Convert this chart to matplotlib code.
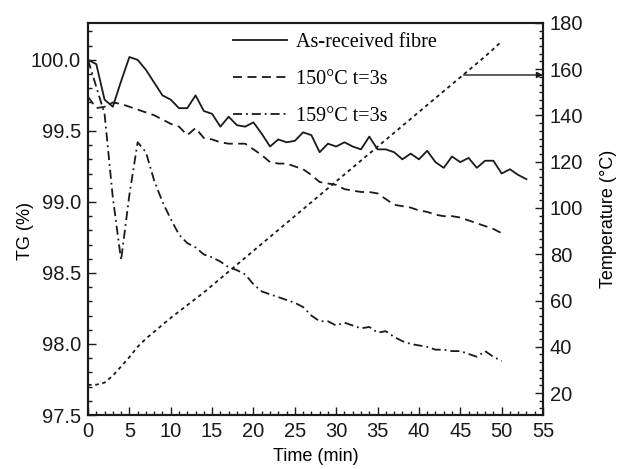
import matplotlib
matplotlib.use("Agg")
import matplotlib.pyplot as plt
from matplotlib.ticker import MultipleLocator

plt.rcParams['font.family'] = 'Liberation Sans'

# TG curves (%), sampled roughly once a minute
t_asrec = list(range(0, 54))
tg_asrec = [100.0, 99.97, 99.72, 99.67, 99.85, 100.02, 100.0, 99.93, 99.84, 99.75,
            99.72, 99.66, 99.66, 99.75, 99.64, 99.62, 99.53, 99.60, 99.54, 99.53,
            99.56, 99.48, 99.39, 99.44, 99.42, 99.43, 99.49, 99.47, 99.35, 99.41,
            99.39, 99.42, 99.39, 99.37, 99.46, 99.37, 99.37, 99.35, 99.30, 99.34,
            99.30, 99.36, 99.28, 99.24, 99.32, 99.28, 99.31, 99.24, 99.29, 99.29,
            99.20, 99.23, 99.19, 99.16]

t_150 = list(range(0, 51))
tg_150 = [99.74, 99.66, 99.67, 99.70, 99.69, 99.67, 99.65, 99.63, 99.61, 99.58,
          99.55, 99.53, 99.47, 99.52, 99.45, 99.44, 99.42, 99.41, 99.41, 99.41,
          99.37, 99.33, 99.28, 99.27, 99.27, 99.25, 99.23, 99.19, 99.14, 99.13,
          99.12, 99.09, 99.08, 99.07, 99.07, 99.06, 99.02, 98.98, 98.97, 98.96,
          98.94, 98.93, 98.91, 98.90, 98.90, 98.89, 98.87, 98.85, 98.83, 98.81,
          98.78]

t_159 = list(range(0, 51))
tg_159 = [100.0, 99.81, 99.62, 99.03, 98.59, 99.05, 99.42, 99.35, 99.15, 99.00,
          98.88, 98.77, 98.71, 98.68, 98.63, 98.61, 98.58, 98.54, 98.52, 98.49,
          98.42, 98.37, 98.35, 98.33, 98.31, 98.29, 98.26, 98.20, 98.16, 98.16,
          98.13, 98.15, 98.13, 98.11, 98.12, 98.08, 98.09, 98.05, 98.02, 98.00,
          97.99, 97.98, 97.96, 97.96, 97.95, 97.95, 97.93, 97.91, 97.95, 97.91,
          97.88]

# furnace temperature (deg C)
t_temp = [0, 1, 2, 3, 4, 5, 6, 7, 8, 10, 12, 14, 16, 18, 20, 22, 24, 26, 28, 30,
          32, 34, 36, 38, 40, 42, 44, 46, 48, 50]
temp = [23.5, 23.6, 24.5, 27.5, 31.5, 35.5, 40.0, 43.5, 46.5, 52.5, 58.0, 63.5,
        69.5, 75.5, 81.5, 87.5, 93.5, 99.5, 105.5, 111.5, 117.5, 123.5, 129.5,
        135.5, 141.5, 147.5, 153.5, 159.5, 165.5, 172.0]

labels = ['As-received fibre', '150°C t=3s', '159°C t=3s']

fig = plt.figure(figsize=(6.22, 4.69), dpi=100)
ax = fig.add_axes([0.1415, 0.1151, 0.7315, 0.836])
ax2 = ax.twinx()

ink = '#1a1a1a'
lw = 1.3
ax.plot(t_asrec, tg_asrec, color=ink, lw=lw, label=labels[0])
ax.plot(t_150, tg_150, color=ink, lw=lw, dashes=(5, 3), label=labels[1])
ax.plot(t_159, tg_159, color=ink, lw=lw, dashes=(5, 2.2, 1, 2.2), label=labels[2])
ax2.plot(t_temp, temp, color=ink, lw=lw, dashes=(2, 2))

# arrow pointing at the temperature axis
ax2.annotate('', xy=(55, 157.5), xytext=(45.4, 157.5),
             arrowprops=dict(arrowstyle='-|>', color=ink, lw=1.0,
                             mutation_scale=9, shrinkA=0, shrinkB=0),
             annotation_clip=False)

ax.set_xlim(0, 55)
ax.set_ylim(97.5, 100.26)
ax2.set_ylim(10.5, 180)

ax.xaxis.set_major_locator(MultipleLocator(5))
ax.xaxis.set_minor_locator(MultipleLocator(1))
ax.yaxis.set_major_locator(MultipleLocator(0.5))
ax.yaxis.set_minor_locator(MultipleLocator(0.1))
ax2.yaxis.set_major_locator(MultipleLocator(20))
ax2.yaxis.set_minor_locator(MultipleLocator(20 / 6))

ax.yaxis.set_major_formatter(matplotlib.ticker.FormatStrFormatter('%.1f'))

for a in (ax, ax2):
    a.tick_params(which='both', direction='in', labelsize=14.5, width=1.0,
                  colors=ink, pad=5, top=False)
    a.tick_params(which='major', length=6)
    a.tick_params(which='minor', length=3)
    for s in a.spines.values():
        s.set_linewidth(1.5)
        s.set_color(ink)
ax.tick_params(right=False, which='both')

ax.set_xlabel('Time (min)', fontsize=13)
ax.set_ylabel('TG (%)', fontsize=13)
ax2.set_ylabel('Temperature (°C)', fontsize=13)
ax.xaxis.set_label_coords(0.5, -0.085)
ax.yaxis.set_label_coords(-0.119, 0.47)
ax2.yaxis.set_label_coords(1.125, 0.5)

ax.legend(loc='upper left', bbox_to_anchor=(0.318, 0.975), frameon=False,
          prop={'family': 'Liberation Serif', 'size': 14.5},
          handlelength=2.7, handletextpad=0.45, labelspacing=0.9,
          borderpad=0, borderaxespad=0)

fig.savefig('out.png', dpi=100)
